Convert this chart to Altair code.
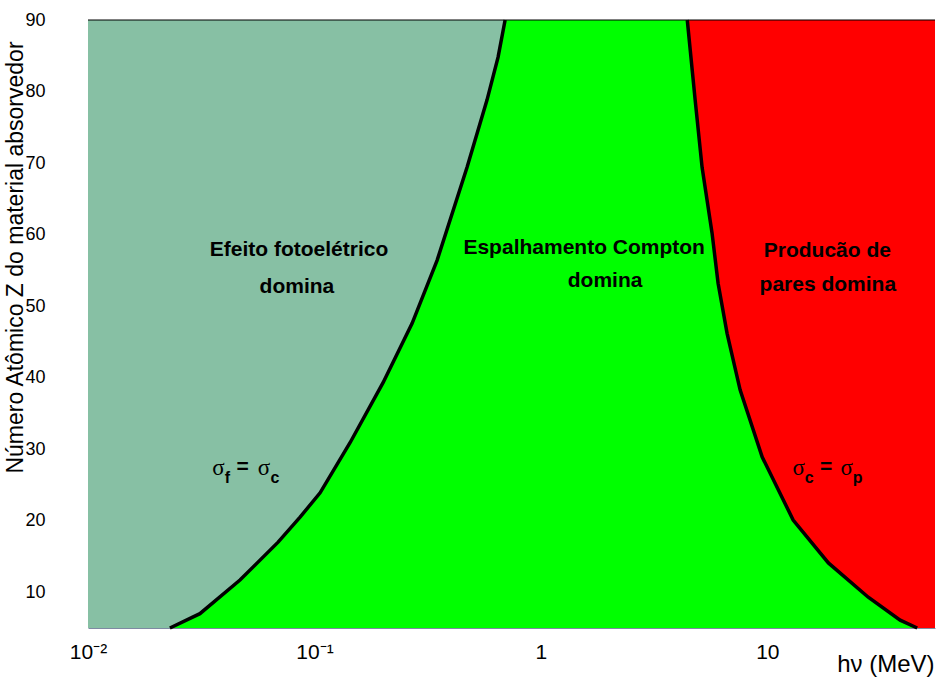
import altair as alt
import pandas as pd

# Boundary where photoelectric and Compton cross sections are equal (sigma_f = sigma_c)
photo_compton_Z = [5, 7, 11.7, 17.0, 20.5, 23.9, 30.9, 39.3, 47.6, 56.4, 69.4, 78.8, 84.8, 90]
photo_compton_E = [0.0230, 0.0312, 0.0469, 0.0691, 0.0864, 0.1059, 0.1436, 0.2009,
                   0.270, 0.348, 0.472, 0.578, 0.647, 0.695]

# Boundary where Compton and pair production cross sections are equal (sigma_c = sigma_p)
compton_pair_Z = [5, 6.1, 9.3, 14.1, 20.1, 28.9, 38.3, 46.2, 53.2, 60.2, 69.4, 78.8, 90]
compton_pair_E = [45.9, 38.6, 27.9, 18.6, 13.0, 9.49, 7.58, 6.64, 6.06, 5.70, 5.15, 4.80, 4.43]

# Axis ranges and ticks
E_MIN, E_MAX = 0.01, 55
Z_MIN, Z_MAX = 5, 90
x_ticks = [0.01, 0.1, 1, 10]
y_ticks = [10, 20, 30, 40, 50, 60, 70, 80, 90]

# Region labels (one row per text line)
label_text = ["Efeito fotoelétrico", "domina",
              "Espalhamento Compton", "domina",
              "Producão de", "pares domina"]
label_E = [0.0855, 0.0837, 1.553, 1.921, 18.4, 18.5]
label_Z = [57.8, 52.7, 58.1, 53.5, 57.7, 53.0]

# Equality annotations, glyph by glyph
sigma_E = [0.03771, 0.05989, 13.75, 22.40]
sigma_Z = [26.39, 26.39, 26.39, 26.39]
sub_text = ["f", "c", "c", "p"]
sub_E = [0.04131, 0.06699, 15.30, 25.05]
sub_Z = [25.27, 25.27, 25.27, 25.27]
eq_E = [0.04813, 18.19]
eq_Z = [26.67, 26.67]

FONT = "Liberation Sans"

# Each region spans from its boundary curve to the plot edge
left_df = pd.DataFrame({"E": photo_compton_E, "Z": photo_compton_Z,
                        "edge": [E_MIN] * len(photo_compton_Z)})
right_df = pd.DataFrame({"E": compton_pair_E, "Z": compton_pair_Z,
                         "edge": [E_MAX] * len(compton_pair_Z)})
labels_df = pd.DataFrame({"E": label_E, "Z": label_Z, "t": label_text})
sigma_df = pd.DataFrame({"E": sigma_E, "Z": sigma_Z, "t": ["σ"] * 4})
sub_df = pd.DataFrame({"E": sub_E, "Z": sub_Z, "t": sub_text})
eq_df = pd.DataFrame({"E": eq_E, "Z": eq_Z, "t": ["="] * 2})
top_df = pd.DataFrame({"Z": [Z_MAX]})

xscale = alt.Scale(type="log", domain=[E_MIN, E_MAX], nice=False)
yscale = alt.Scale(domain=[Z_MIN, Z_MAX], nice=False, zero=False)

x_label_expr = ("datum.value < 0.05 ? '10⁻²' : datum.value < 0.5 ? '10⁻¹' : "
                "datum.value < 5 ? '1' : '10'")

xaxis = alt.Axis(values=x_ticks, labelExpr=x_label_expr, labelFont=FONT, labelFontSize=21,
                 labelPadding=13, labelColor="black", labelFlush=False, labelOverlap=False,
                 tickSize=0, grid=False, domainColor="#7f8aa3", domainWidth=1,
                 title="hν (MeV)", titleFont=FONT, titleFontSize=24, titleFontWeight="normal",
                 titleColor="black", titleX=846, titleY=36, titleAlign="right",
                 titleBaseline="middle")
yaxis = alt.Axis(values=y_ticks, labelFont=FONT, labelFontSize=18, labelPadding=43,
                 labelColor="black", tickSize=0, grid=False, domain=False,
                 title="Número Atômico Z do material absorvedor", titleFont=FONT,
                 titleFontSize=23, titleFontWeight="normal", titleColor="black",
                 titleX=-73, titleY=237, titleAlign="center", titleBaseline="middle")


def X(field="E:Q"):
    return alt.X(field, scale=xscale, axis=xaxis)


def Y(field="Z:Q"):
    return alt.Y(field, scale=yscale, axis=yaxis)


# Photoelectric region: from the left edge to the sigma_f = sigma_c curve
photo_area = alt.Chart(left_df).mark_area(orient="horizontal", color="#87c0a4", opacity=1).encode(
    y=Y(), x=X(), x2="edge:Q")

# Pair production region: from the sigma_c = sigma_p curve to the right edge
pair_area = alt.Chart(right_df).mark_area(orient="horizontal", color="#ff0000", opacity=1).encode(
    y=Y(), x=X(), x2="edge:Q")

line_style = dict(color="black", strokeWidth=3.5, strokeCap="butt", strokeJoin="miter")
left_line = alt.Chart(left_df).mark_line(**line_style).encode(x=X(), y=Y(), order="Z:Q")
right_line = alt.Chart(right_df).mark_line(**line_style).encode(x=X(), y=Y(), order="Z:Q")

top_rule = alt.Chart(top_df).mark_rule(color="black", strokeWidth=1).encode(y=Y())

labels = alt.Chart(labels_df).mark_text(font=FONT, fontSize=21, fontWeight="bold", color="black",
                                        align="center", baseline="middle").encode(
    x=X(), y=Y(), text="t:N")
sigmas = alt.Chart(sigma_df).mark_text(font="Liberation Serif", fontSize=23, color="black",
                                       align="center", baseline="alphabetic").encode(
    x=X(), y=Y(), text="t:N")
subs = alt.Chart(sub_df).mark_text(font=FONT, fontSize=16, fontWeight="bold", color="black",
                                   align="center", baseline="alphabetic").encode(
    x=X(), y=Y(), text="t:N")
eqs = alt.Chart(eq_df).mark_text(font=FONT, fontSize=21, fontWeight="bold", color="black",
                                 align="center", baseline="alphabetic").encode(
    x=X(), y=Y(), text="t:N")

chart = alt.layer(
    photo_area, pair_area, left_line, right_line, top_rule, labels, sigmas, subs, eqs
).properties(
    width=847, height=608,
    autosize=alt.AutoSizeParams(type="none"),
    padding={"left": 88, "top": 20, "right": 1, "bottom": 51},
    background="white",
).configure_view(fill="#00ff00", stroke=None)

chart.save("out.html", embed_options={"renderer": "svg", "actions": False})
